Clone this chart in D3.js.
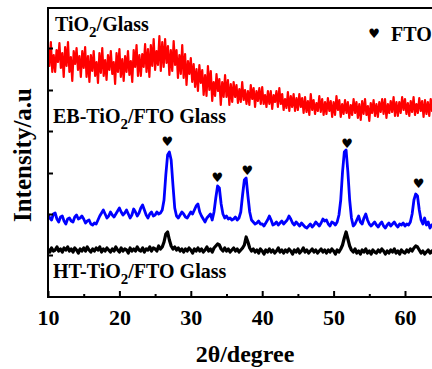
<!DOCTYPE html>
<html>
<head>
<meta charset="utf-8">
<script src="https://cdn.jsdelivr.net/npm/d3@7"></script>
<style>
  html, body { margin: 0; padding: 0; background: #fff; }
  svg { display: block; }
  .serif { font-family: "Times New Roman", "Liberation Serif", serif; font-weight: bold; }
</style>
</head>
<body>
<svg id="chart" width="432" height="369"></svg>
<script>
// ---------- DATA ----------
const xTickLabels = [10, 20, 30, 40, 50, 60];
const xMinorTicks = [15, 25, 35, 45, 55, 65];
const yTicks = [42, 83, 124, 166, 207, 249];

// red trace (TiO2/Glass), sampled from 10.0 deg every 0.2 deg
const redStart = 10, redStep = 0.2;
const redSeries = [
  249,231,255,225,242, 225,247,235,254,229, 244,220,250,231,255, 225,240,216,246,233,
  249,227,241,220,246, 229,250,220,241,215, 242,226,246,221,235, 214,244,224,249,221,
  237,217,242,227,246, 223,235,213,244,225, 248,220,238,216,241, 225,246,222,236,215,
  247,230,252,221,242, 221,243,230,253,225, 248,220,252,231,258, 227,246,232,261,226,
  255,230,258,234,251, 222,247,226,256,232, 247,219,242,223,252, 219,243,212,236,223,
  239,215,233,210,228, 206,232,214,227,202, 222,201,231,207,226, 196,215,201,223,206,
  218,192,215,200,222, 200,217,192,213,195, 215,200,212,194,208, 195,215,197,207,193,
  206,192,212,198,209, 190,206,196,209,193, 210,193,202,190,206, 193,206,188,202,195,
  206,190,209,193,203, 187,198,189,205,186, 201,190,203,186,199, 187,203,190,199,184,
  200,185,196,182,203, 187,197,183,194,186, 201,185,198,182,195, 183,199,186,196,180,
  195,182,201,187,197, 180,193,183,197,184, 195,179,192,182,198, 184,195,179,193,177,
  196,183,198,182,191, 176,194,184,197,181, 193,180,195,185,198, 183,198,179,193,184,
  196,185,200,181,195, 181,195,184,200,187, 198,183,194,181,196, 185,200,182,193,184,
  199,186,196,180,197, 183,195,181,198,186, 196,182,199,185,194
];

// blue trace (EB-TiO2/FTO Glass) and black trace (HT-TiO2/FTO Glass), from 10.0 deg every 0.25 deg
const traceStart = 10, traceStep = 0.25;
const blueSeries = [
  83,79,77,83,84,78,75,80,81,76,73,78,79,76,75,80,82,78,79,81,
  78,74,76,77,73,72,74,73,77,81,84,87,83,79,81,85,82,80,83,86,
  89,85,82,84,87,83,79,82,88,85,81,84,89,92,87,82,79,83,85,81,
  82,85,83,84,87,97,122,142,145,137,112,89,81,79,82,85,83,80,79,82,
  85,83,87,91,93,85,81,78,75,79,81,83,77,85,99,111,109,93,83,79,
  81,78,79,77,78,80,77,79,85,102,117,119,101,85,77,75,73,74,76,73,
  73,71,74,77,81,77,72,73,75,72,74,76,73,75,77,81,78,74,72,75,
  73,71,74,72,70,69,71,73,70,72,75,73,71,74,78,76,77,73,71,75,
  74,72,75,82,97,125,145,147,125,97,79,71,73,77,81,75,73,79,83,77,
  73,71,73,75,72,70,73,75,71,69,72,74,71,73,75,72,70,73,72,74,
  71,73,72,75,83,97,103,101,87,77,73,79,72,75,69,72,73,71,72,73
];
const blackSeries = [
  48,45,49,46, 47,50,46,48, 45,49,47,50, 46,48,45,49, 47,44,48,46,
  49,46,50,47, 45,48,46,49, 47,50,45,48, 46,49,47,45, 48,46,50,47,
  45,49,46,48, 47,44,49,46, 48,46,50,47, 46,49,45,48, 47,50,46,49,
  48,46,51,48, 50,55,63,65, 57,51,48,50, 47,49,46,48, 45,48,46,49,
  47,44,48,46, 49,46,48,45, 47,50,46,48, 45,49,51,53, 52,48,46,49,
  46,48,45,47, 49,46,48,45, 47,49,52,60, 55,49,46,48, 45,47,44,48,
  46,43,47,45, 48,45,47,44, 46,49,45,47, 44,47,45,48, 46,43,47,45,
  48,44,46,49, 45,47,44,46, 48,45,47,44, 46,48,45,47, 44,47,45,48,
  46,43,47,45, 48,52,59,65, 58,51,47,45, 48,44,46,43, 47,45,48,44,
  46,43,47,45, 44,47,45,48, 46,43,46,44, 47,45,48,44, 46,43,47,45,
  44,47,45,48, 46,49,51,50, 47,44,46,43, 45,47,44,46, 43,46,44,45
];

// FTO reflection markers (2theta, marker height)
const ftoPeaks = [26.7, 33.7, 37.9, 51.9, 61.9];
const ftoMarkerLevel = [156, 120, 127, 154, 114];

const labels = [
  { main: "TiO", sub: "2", rest: "/Glass" },
  { main: "EB-TiO", sub: "2", rest: "/FTO Glass" },
  { main: "HT-TiO", sub: "2", rest: "/FTO Glass" }
];

// ---------- LAYOUT ----------
const svg = d3.select("#chart");
const plotLeft = 48, plotTop = 8, plotBottom = 297, plotRight = 476.4;

const x = d3.scaleLinear().domain([10, 70]).range([plotLeft, plotRight]);
const y = d3.scaleLinear().domain([0, 289]).range([plotBottom, plotTop]);

svg.append("rect").attr("width", 432).attr("height", 369).attr("fill", "#fff");

svg.append("defs").append("clipPath").attr("id", "plotClip")
  .append("rect").attr("x", plotLeft).attr("y", plotTop)
  .attr("width", plotRight - plotLeft).attr("height", plotBottom - plotTop);

const plot = svg.append("g").attr("clip-path", "url(#plotClip)");

function lineFor(start, step) {
  return d3.line().x((d, i) => x(start + i * step)).y(d => y(d));
}

plot.append("path").datum(redSeries)
  .attr("d", lineFor(redStart, redStep))
  .attr("fill", "none").attr("stroke", "#ff0000").attr("stroke-width", 2.2)
  .attr("stroke-linejoin", "round");

plot.append("path").datum(blackSeries)
  .attr("d", lineFor(traceStart, traceStep))
  .attr("fill", "none").attr("stroke", "#000").attr("stroke-width", 3.2)
  .attr("stroke-linejoin", "round");

plot.append("path").datum(blueSeries)
  .attr("d", lineFor(traceStart, traceStep))
  .attr("fill", "none").attr("stroke", "#0000ff").attr("stroke-width", 2.8)
  .attr("stroke-linejoin", "round");

// FTO heart markers
plot.selectAll("text.heart").data(ftoPeaks).enter().append("text")
  .attr("class", "heart")
  .attr("x", d => x(d))
  .attr("y", (d, i) => y(ftoMarkerLevel[i]))
  .attr("dy", "0.35em")
  .attr("text-anchor", "middle")
  .attr("font-family", "DejaVu Sans, sans-serif")
  .attr("font-size", 13)
  .text("\u2665");

// Axes
const xAxis = d3.axisBottom(x).tickValues(xTickLabels).tickFormat(d3.format("d"))
  .tickSizeInner(-6).tickSizeOuter(0).tickPadding(12);
const gx = svg.append("g").attr("transform", `translate(0,${plotBottom})`).call(xAxis);
gx.select(".domain").remove();
gx.selectAll("line").attr("stroke", "#000").attr("stroke-width", 2);
gx.selectAll("text").attr("class", "serif").attr("font-size", 22).attr("fill", "#000");

const xMinor = d3.axisBottom(x).tickValues(xMinorTicks).tickFormat("")
  .tickSizeInner(-3).tickSizeOuter(0);
const gxm = svg.append("g").attr("transform", `translate(0,${plotBottom})`).call(xMinor);
gxm.select(".domain").remove();
gxm.selectAll("line").attr("stroke", "#000").attr("stroke-width", 2);

const yAxis = d3.axisLeft(y).tickValues(yTicks).tickFormat("")
  .tickSizeInner(-5).tickSizeOuter(0);
const gy = svg.append("g").attr("transform", `translate(${plotLeft},0)`).call(yAxis);
gy.select(".domain").remove();
gy.selectAll("line").attr("stroke", "#000").attr("stroke-width", 2);

// Frame
svg.append("rect").attr("x", plotLeft).attr("y", plotTop)
  .attr("width", plotRight - plotLeft).attr("height", plotBottom - plotTop)
  .attr("fill", "none").attr("stroke", "#000").attr("stroke-width", 2);

// Series labels
const labelPos = [[55, 31], [53, 123], [53, 278]];
labels.forEach((l, i) => {
  const t = svg.append("text").attr("class", "serif")
    .attr("x", labelPos[i][0]).attr("y", labelPos[i][1])
    .attr("font-size", 20).attr("fill", "#000");
  t.append("tspan").text(l.main);
  t.append("tspan").attr("dy", 6).attr("font-size", 15).text(l.sub);
  t.append("tspan").attr("dy", -6).text(l.rest);
});

// Legend
svg.append("text").attr("x", 374).attr("y", 33).attr("dy", "0.35em")
  .attr("text-anchor", "middle")
  .attr("font-family", "DejaVu Sans, sans-serif").attr("font-size", 13)
  .text("\u2665");
svg.append("text").attr("class", "serif").attr("x", 391).attr("y", 41)
  .attr("font-size", 20).text("FTO");

// Axis titles
svg.append("text").attr("class", "serif").attr("x", 245).attr("y", 362)
  .attr("text-anchor", "middle").attr("font-size", 24).text("2\u03b8/degree");
svg.append("text").attr("class", "serif")
  .attr("transform", "translate(31,155) rotate(-90)")
  .attr("text-anchor", "middle").attr("font-size", 25).text("Intensity/a.u");
</script>
</body>
</html>
